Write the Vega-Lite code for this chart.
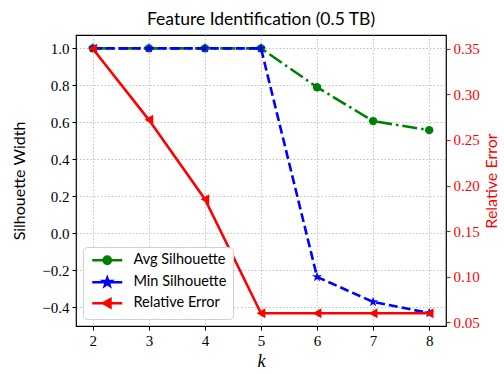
{
  "$schema": "https://vega.github.io/schema/vega-lite/v6.json",
  "width": 370,
  "height": 291,
  "autosize": {"type": "none"},
  "padding": {"left": 76, "top": 35, "right": 58, "bottom": 48},
  "title": {"text": "Feature Identification (0.5 TB)", "font": "Lato", "fontSize": 17.5, "fontWeight": "normal", "color": "black", "anchor": "middle", "offset": 7},
  "data": {
    "values": [
      {"k": 2, "series": "Avg Silhouette", "value": 1.0},
      {"k": 3, "series": "Avg Silhouette", "value": 1.0},
      {"k": 4, "series": "Avg Silhouette", "value": 1.0},
      {"k": 5, "series": "Avg Silhouette", "value": 1.0},
      {"k": 6, "series": "Avg Silhouette", "value": 0.79},
      {"k": 7, "series": "Avg Silhouette", "value": 0.607},
      {"k": 8, "series": "Avg Silhouette", "value": 0.558},
      {"k": 2, "series": "Min Silhouette", "value": 1.0},
      {"k": 3, "series": "Min Silhouette", "value": 1.0},
      {"k": 4, "series": "Min Silhouette", "value": 1.0},
      {"k": 5, "series": "Min Silhouette", "value": 1.0},
      {"k": 6, "series": "Min Silhouette", "value": -0.235},
      {"k": 7, "series": "Min Silhouette", "value": -0.37},
      {"k": 8, "series": "Min Silhouette", "value": -0.43},
      {"k": 2, "series": "Relative Error", "value": 0.35},
      {"k": 3, "series": "Relative Error", "value": 0.272},
      {"k": 4, "series": "Relative Error", "value": 0.185},
      {"k": 5, "series": "Relative Error", "value": 0.06},
      {"k": 6, "series": "Relative Error", "value": 0.06},
      {"k": 7, "series": "Relative Error", "value": 0.06},
      {"k": 8, "series": "Relative Error", "value": 0.06}
    ]
  },
  "encoding": {
    "x": {
      "field": "k", "type": "quantitative",
      "scale": {"domain": [1.7, 8.3], "nice": false, "zero": false},
      "axis": {"values": [2, 3, 4, 5, 6, 7, 8], "format": "d", "title": "k", "titleFont": "Liberation Serif", "titleFontStyle": "italic", "titleFontSize": 18, "titlePadding": 4}
    }
  },
  "layer": [
    {
      "encoding": {
        "y": {
          "field": "value", "type": "quantitative",
          "scale": {"domain": [-0.5, 1.072], "nice": false, "zero": false},
          "axis": {"orient": "left", "values": [-0.4, -0.2, 0, 0.2, 0.4, 0.6, 0.8, 1.0], "format": ".1f", "title": "Silhouette Width", "titlePadding": 14, "titleFontSize": 16}
        }
      },
      "layer": [
        {
          "transform": [{"filter": "datum.series === 'Avg Silhouette'"}],
          "mark": {"type": "line", "color": "#008000", "strokeWidth": 2.6, "strokeDash": [15, 4, 2.5, 4]}
        },
        {
          "transform": [{"filter": "datum.series === 'Avg Silhouette'"}],
          "mark": {"type": "point", "shape": "circle", "filled": true, "color": "#008000", "opacity": 1, "size": 70}
        },
        {
          "transform": [{"filter": "datum.series === 'Min Silhouette'"}],
          "mark": {"type": "line", "color": "#0000ff", "strokeWidth": 2.6, "strokeDash": [9, 4]}
        },
        {
          "transform": [{"filter": "datum.series === 'Min Silhouette'"}],
          "mark": {"type": "point", "shape": "M0,-1L0.235,-0.324L0.951,-0.309L0.38,0.124L0.588,0.809L0,0.4L-0.588,0.809L-0.38,0.124L-0.951,-0.309L-0.235,-0.324Z", "filled": true, "color": "#0000ff", "opacity": 1, "size": 110}
        },
        {
          "mark": {"type": "point", "filled": true, "opacity": 0},
          "encoding": {
            "color": {
              "field": "series", "type": "nominal",
              "scale": {"domain": ["Avg Silhouette", "Min Silhouette", "Relative Error"], "range": ["#008000", "#0000ff", "#ff0000"]},
              "legend": {
                "title": null,
                "orient": "bottom-left",
                "offset": 7,
                "symbolOpacity": 1,
                "symbolSize": 64,
                "symbolOffset": 11,
                "labelOffset": 19,
                "encode": {"symbols": {"update": {"stroke": {"scale": "color", "field": "value"}, "strokeWidth": {"value": 2.6}, "opacity": {"value": 1}}}}
              }
            },
            "shape": {
              "field": "series", "type": "nominal",
              "scale": {"domain": ["Avg Silhouette", "Min Silhouette", "Relative Error"], "range": [
                "M-3.75,0H3.75M0.9,0A0.9,0.9,0,1,1,-0.9,0A0.9,0.9,0,1,1,0.9,0Z",
                "M-3.75,0H3.75M0,-1L0.235,-0.324L0.951,-0.309L0.38,0.124L0.588,0.809L0,0.4L-0.588,0.809L-0.38,0.124L-0.951,-0.309L-0.235,-0.324Z",
                "M-3.75,0H3.75M-1,0L0.8,-1L0.8,1Z"
              ]}
            }
          }
        }
      ]
    },
    {
      "encoding": {
        "y": {
          "field": "value", "type": "quantitative",
          "scale": {"domain": [0.046, 0.365], "nice": false, "zero": false},
          "axis": {"orient": "right", "values": [0.05, 0.1, 0.15, 0.2, 0.25, 0.3, 0.35], "format": ".2f", "title": "Relative Error", "titleFontSize": 16, "grid": false, "tickColor": "#ff0000", "labelColor": "#ff0000", "titleColor": "#ff0000", "titleAngle": 270, "titleBaseline": "top", "titlePadding": 4}
        }
      },
      "layer": [
        {
          "transform": [{"filter": "datum.series === 'Relative Error'"}],
          "mark": {"type": "line", "color": "#ff0000", "strokeWidth": 2.6}
        },
        {
          "transform": [{"filter": "datum.series === 'Relative Error'"}],
          "mark": {"type": "point", "shape": "triangle-left", "filled": true, "color": "#ff0000", "opacity": 1, "size": 100}
        }
      ]
    }
  ],
  "resolve": {"scale": {"y": "independent"}},
  "config": {
    "background": "white",
    "view": {"stroke": "black", "strokeWidth": 1.2},
    "axis": {
      "domain": false,
      "tickColor": "black",
      "tickSize": 4,
      "tickWidth": 1,
      "labelFont": "Liberation Serif",
      "labelFontSize": 15,
      "labelColor": "black",
      "labelPadding": 3,
      "titleFont": "Lato",
      "titleFontSize": 15,
      "titleFontWeight": "normal",
      "titleColor": "black",
      "grid": true,
      "gridColor": "#b0b0b0",
      "gridDash": [1.5, 2],
      "gridWidth": 0.8
    },
    "legend": {
      "labelFont": "Lato",
      "labelFontSize": 14.5,
      "labelColor": "black",
      "fillColor": "white",
      "strokeColor": "#d0d0d0",
      "cornerRadius": 4,
      "padding": 6,
      "rowPadding": 3
    }
  }
}
